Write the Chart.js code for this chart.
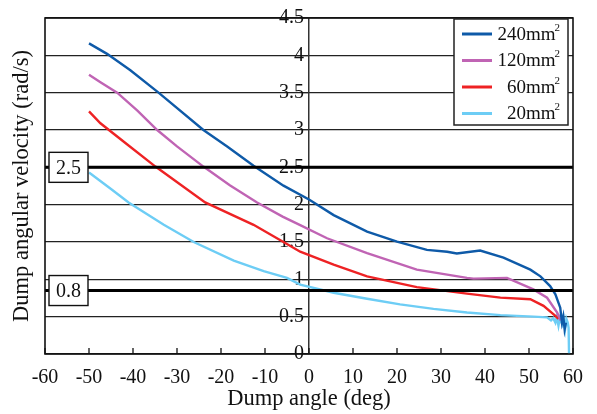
<!DOCTYPE html>
<html>
<head>
<meta charset="utf-8">
<script src="https://cdn.jsdelivr.net/npm/chart.js@4.4.1/dist/chart.umd.min.js"></script>
<style>
  html, body { margin: 0; padding: 0; background: #fff; }
</style>
</head>
<body>
<canvas id="grafico" width="597" height="414"></canvas>
<script>
// dados (angulo em graus, velocidade em rad/s)
const rotulos = ['240mm²', '120mm²', '60mm²', '20mm²'];
const cores = ['#0e5aa8', '#c064b4', '#ee2224', '#6dcdf5'];

const angulo240 = [-50, -45.9, -40.6, -34.2, -24, -18.6, -12.6, -5.8, 0, 5.6, 13.2, 20, 26.8, 31.4, 33.6, 38.9, 44.2, 50.3, 52.6, 54.8, 56, 57.1, 57.5, 57.8, 58.1, 58.4];
const vel240 = [4.16, 4.02, 3.80, 3.50, 3.00, 2.78, 2.52, 2.255, 2.07, 1.86, 1.64, 1.505, 1.395, 1.37, 1.346, 1.385, 1.29, 1.13, 1.04, 0.91, 0.80, 0.62, 0.42, 0.5, 0.33, 0.42];

const angulo120 = [-50, -47.4, -43.6, -39, -34.5, -30, -24, -18, -11.8, -6, -2, 4.1, 13.2, 24.5, 35.9, 37.4, 45, 51, 54.1, 56.4, 57.2];
const vel120 = [3.74, 3.64, 3.5, 3.26, 3.0, 2.78, 2.51, 2.26, 2.03, 1.84, 1.726, 1.55, 1.35, 1.13, 1.02, 1.01, 1.02, 0.865, 0.754, 0.556, 0.45];

const angulo60 = [-50, -47.4, -41.8, -34.9, -23.6, -12.6, -5.8, -2, 5.6, 13.2, 24.5, 35.9, 43.5, 50.3, 53.3, 56, 56.7];
const vel60 = [3.25, 3.09, 2.83, 2.51, 2.03, 1.73, 1.50, 1.37, 1.196, 1.04, 0.896, 0.808, 0.755, 0.733, 0.645, 0.51, 0.47];

const angulo20 = [-50, -45, -41, -33, -26.2, -17.1, -10.3, -5, -2, 5.6, 13.2, 20.7, 28.3, 35.9, 43.5, 51, 54.1, 55, 55.5, 56, 56.3, 56.7, 57, 57.5, 57.8, 58.2, 58.5, 58.8, 59, 59.1];
const vel20 = [2.43, 2.21, 2.03, 1.73, 1.50, 1.25, 1.11, 1.02, 0.93, 0.82, 0.74, 0.665, 0.605, 0.556, 0.52, 0.50, 0.49, 0.45, 0.48, 0.42, 0.5, 0.38, 0.48, 0.40, 0.5, 0.33, 0.47, 0.42, 0.35, 0];

// linhas de referencia e os textos das caixas
const linhasRef = [2.5, 0.85];
const textosRef = ['2.5', '0.8'];

const eixoX = { min: -60, max: 60, passo: 10 };
const eixoY = { min: 0, max: 4.5, passo: 0.5 };

const fonte = 'Liberation Serif';
const corTexto = '#111';

function pontos(xs, ys) {
  return xs.map((x, i) => ({ x: x, y: ys[i] }));
}

const series = [
  pontos(angulo240, vel240),
  pontos(angulo120, vel120),
  pontos(angulo60, vel60),
  pontos(angulo20, vel20)
];

let dados = {
  datasets: series.map((s, i) => ({
    label: rotulos[i],
    data: s,
    borderColor: cores[i],
    backgroundColor: cores[i],
    borderWidth: 2.4,
    pointRadius: 0,
    tension: 0,
    fill: false
  }))
};

// moldura, linhas grossas, caixas, titulo do eixo y e legenda
const extras = {
  id: 'extras',
  afterDatasetsDraw(chart) {
    const ctx = chart.ctx;
    const area = chart.chartArea;
    const y = chart.scales.y;
    const x = chart.scales.x;
    ctx.save();

    // linhas grossas
    ctx.strokeStyle = '#000';
    ctx.lineWidth = 3;
    linhasRef.forEach(v => {
      const py = y.getPixelForValue(v);
      ctx.beginPath();
      ctx.moveTo(area.left, py);
      ctx.lineTo(area.right, py);
      ctx.stroke();
    });

    // moldura
    ctx.lineWidth = 1.6;
    ctx.strokeStyle = '#111';
    ctx.strokeRect(area.left, area.top, area.right - area.left, area.bottom - area.top);

    // marcas do eixo x (para dentro)
    ctx.lineWidth = 1.3;
    x.ticks.forEach(t => {
      const px = x.getPixelForValue(t.value);
      ctx.beginPath();
      ctx.moveTo(px, area.bottom);
      ctx.lineTo(px, area.bottom - 6);
      ctx.stroke();
    });

    // caixas com os valores
    ctx.font = '20px "' + fonte + '"';
    ctx.textAlign = 'center';
    ctx.textBaseline = 'middle';
    linhasRef.forEach((v, i) => {
      const py = y.getPixelForValue(v);
      const bx = area.left + 4, bw = 39, bh = 30;
      ctx.fillStyle = '#fff';
      ctx.fillRect(bx, py - bh / 2, bw, bh);
      ctx.strokeStyle = '#111';
      ctx.lineWidth = 1.4;
      ctx.strokeRect(bx, py - bh / 2, bw, bh);
      ctx.fillStyle = corTexto;
      ctx.fillText(textosRef[i], bx + bw / 2, py + 1);
    });

    // titulo do eixo y
    ctx.save();
    ctx.translate(22, (area.top + area.bottom) / 2);
    ctx.rotate(-Math.PI / 2);
    ctx.fillStyle = corTexto;
    ctx.font = '22.5px "' + fonte + '"';
    ctx.fillText('Dump angular velocity (rad/s)', 0, 0);
    ctx.restore();

    // legenda
    const lx = 454, ly = 19, lw = 114, lh = 106;
    ctx.fillStyle = '#fff';
    ctx.fillRect(lx, ly, lw, lh);
    ctx.strokeStyle = '#222';
    ctx.lineWidth = 1.5;
    ctx.strokeRect(lx, ly, lw, lh);
    chart.data.datasets.forEach((ds, i) => {
      const cy = ly + 15 + i * 26.5;
      ctx.strokeStyle = ds.borderColor;
      ctx.lineWidth = 3;
      ctx.beginPath();
      ctx.moveTo(lx + 8, cy);
      ctx.lineTo(lx + 38, cy);
      ctx.stroke();
      const base = ds.label.replace('²', '');
      ctx.fillStyle = corTexto;
      ctx.textAlign = 'right';
      ctx.textBaseline = 'middle';
      ctx.font = '11px "' + fonte + '"';
      const supW = ctx.measureText('2').width;
      ctx.fillText('2', lx + lw - 8, cy - 6);
      ctx.font = '19px "' + fonte + '"';
      ctx.fillText(base, lx + lw - 8 - supW + 1, cy + 1);
    });

    ctx.restore();
  }
};

const options = {
  responsive: false,
  animation: false,
  layout: { padding: { left: 45, right: 24, top: 14, bottom: 0 } },
  plugins: { legend: { display: false }, tooltip: { enabled: false } },
  scales: {
    x: {
      type: 'linear',
      min: eixoX.min,
      max: eixoX.max,
      ticks: { stepSize: eixoX.passo, color: corTexto, font: { family: fonte, size: 20 }, padding: 4 },
      grid: { display: false },
      border: { display: false },
      title: { display: true, text: 'Dump angle (deg)', color: corTexto, font: { family: fonte, size: 22.5 }, padding: { top: 0, bottom: 1 } },
      afterFit(s) { s.height = 60; }
    },
    y: {
      type: 'linear',
      min: eixoY.min,
      max: eixoY.max,
      position: { x: 0 },
      // espaco no fim para afastar o rotulo do eixo
      ticks: { stepSize: eixoY.passo, color: corTexto, font: { family: fonte, size: 20 }, padding: 6, callback: v => String(v) + ' ' },
      grid: { color: '#222', lineWidth: 1.2, drawTicks: true, tickLength: 6 },
      border: { display: true, color: '#333', width: 1.5 },
      afterFit(s) { s.width = 0; }
    }
  }
};

var config = {
  type: 'line',
  data: dados,
  options: options,
  plugins: [extras]
};

let myChart = new Chart(document.getElementById('grafico'), config);
</script>
</body>
</html>
